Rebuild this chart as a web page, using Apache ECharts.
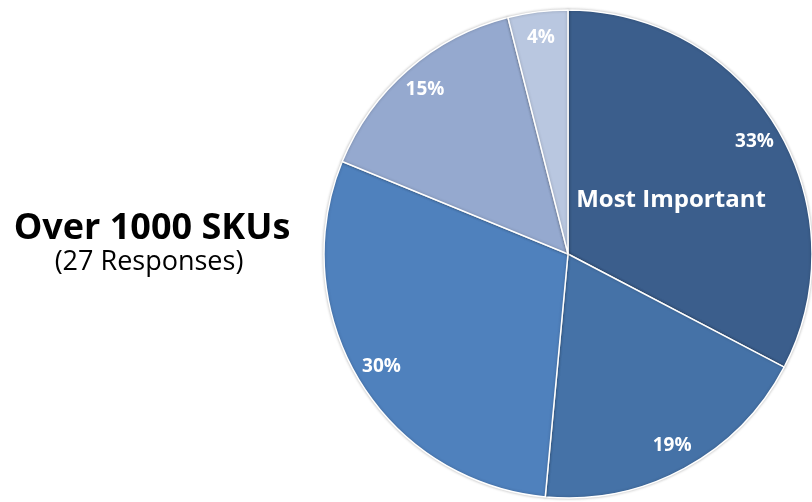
<!DOCTYPE html>
<html>
<head>
<meta charset="utf-8">
<script src="https://cdn.jsdelivr.net/npm/echarts@6/dist/echarts.min.js"></script>
<style>
  html, body { margin: 0; padding: 0; background: #ffffff; }
  #chart { width: 812px; height: 502px; }
</style>
</head>
<body>
<div id="chart"></div>
<script>
// Share of responses per priority rank, clockwise from the top
const categories = ['Most Important', 'Rank 2', 'Rank 3', 'Rank 4', 'Least Important'];
const shares = [33, 19, 30, 15, 4];
const sliceColors = ['#3B5E8C', '#4572A7', '#4F81BD', '#95A9CF', '#B9C7E0'];

const titleText = 'Over 1000 SKUs';
const subtitleText = '(27 Responses)';

const pieData = categories.map((name, i) => ({
  name: name,
  value: shares[i],
  itemStyle: { color: sliceColors[i] }
}));

const chart = echarts.init(document.getElementById('chart'), null, { renderer: 'canvas' });

const center = [568, 254];
const R = 244;
const labelFont = '"Open Sans", "DejaVu Sans", sans-serif';

chart.setOption({
  animation: false,
  backgroundColor: '#ffffff',
  graphic: [
    {
      type: 'text',
      style: {
        text: titleText, x: 152, y: 229,
        fill: '#000000', font: 'bold 36px ' + labelFont,
        align: 'center', verticalAlign: 'middle'
      }
    },
    {
      type: 'text',
      style: {
        text: subtitleText, x: 149, y: 262,
        fill: '#000000', font: '27px ' + labelFont,
        align: 'center', verticalAlign: 'middle'
      }
    },
    {
      type: 'text',
      z: 100,
      style: {
        text: categories[0], x: 671, y: 200,
        fill: '#ffffff', font: 'bold 24px ' + labelFont,
        align: 'center', verticalAlign: 'middle'
      }
    }
  ],
  series: [
    {
      type: 'pie',
      center: center,
      radius: [0, R],
      startAngle: 90,
      clockwise: true,
      silent: true,
      label: { show: false },
      labelLine: { show: false },
      itemStyle: {
        borderColor: '#ffffff',
        borderWidth: 1.5,
        shadowBlur: 3,
        shadowColor: 'rgba(0,0,0,0.25)'
      },
      data: pieData
    },
    {
      // transparent ring that only carries the percentage labels near the rim
      type: 'pie',
      center: center,
      radius: [186, R],
      startAngle: 90,
      clockwise: true,
      silent: true,
      z: 5,
      itemStyle: { color: 'rgba(0,0,0,0)', borderWidth: 0 },
      label: {
        show: true,
        position: 'inside',
        formatter: p => p.value + '%',
        color: '#ffffff',
        fontFamily: labelFont,
        fontWeight: 'bold',
        fontSize: 19
      },
      labelLine: { show: false },
      data: categories.map((name, i) => ({ name: name, value: shares[i] }))
    }
  ]
});
</script>
</body>
</html>
